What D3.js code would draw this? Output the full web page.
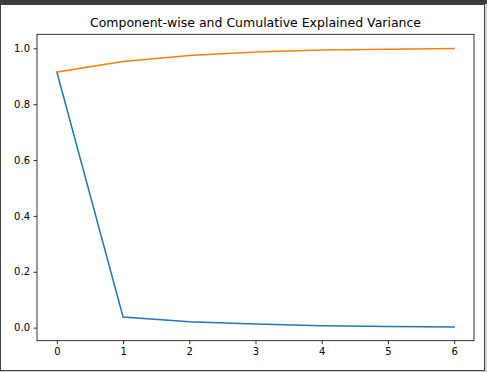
<!DOCTYPE html>
<html>
<head>
<meta charset="utf-8">
<script src="https://cdn.jsdelivr.net/npm/d3@7"></script>
<style>
  html, body { margin: 0; padding: 0; background: #d4d4d4; }
  #frame { position: absolute; left: 0; top: 0; width: 487px; height: 372px; overflow: hidden; }
</style>
</head>
<body>
<div id="frame"></div>
<script>
const components = [0, 1, 2, 3, 4, 5, 6]
const explained = [0.915, 0.038, 0.021, 0.013, 0.007, 0.004, 0.002]
const cumulative = [0.915, 0.953, 0.974, 0.987, 0.994, 0.997, 0.999]
const yTicks = [0.0, 0.2, 0.4, 0.6, 0.8, 1.0]
const title = 'Component-wise and Cumulative Explained Variance'

const width = 487, height = 372
const ax = { left: 37, right: 474, top: 34.3, bottom: 340.7 }

const svg = d3.select('#frame').append('svg')
  .attr('width', width)
  .attr('height', height)
  .attr('font-family', 'DejaVu Sans, sans-serif')

// window chrome around the figure
svg.append('rect').attr('x', 0).attr('y', 0).attr('width', width).attr('height', 4).attr('fill', '#3c3c3c')
svg.append('rect')
  .attr('x', 0.5).attr('y', 4.5).attr('width', 484).attr('height', 366)
  .attr('fill', '#fff').attr('stroke', '#444').attr('stroke-width', 1)

const x = d3.scaleLinear().domain([-0.3, 6.3]).range([ax.left, ax.right])
const y = d3.scaleLinear().domain([-0.0468, 1.0502]).range([ax.bottom, ax.top])

const line = d3.line().x((d, i) => x(components[i])).y(d => y(d))

svg.append('path').datum(explained)
  .attr('d', line).attr('fill', 'none')
  .attr('stroke', '#1f77b4').attr('stroke-width', 1.5).attr('stroke-linecap', 'square')

svg.append('path').datum(cumulative)
  .attr('d', line).attr('fill', 'none')
  .attr('stroke', '#ff7f0e').attr('stroke-width', 1.5).attr('stroke-linecap', 'square')

const xAxis = svg.append('g')
  .attr('transform', `translate(0,${ax.bottom})`)
  .call(d3.axisBottom(x).tickValues(components).tickFormat(d3.format('d')).tickSize(3.5).tickPadding(3.5))
const yAxis = svg.append('g')
  .attr('transform', `translate(${ax.left},0)`)
  .call(d3.axisLeft(y).tickValues(yTicks).tickFormat(d3.format('.1f')).tickSize(3.5).tickPadding(3.5))

for (const g of [xAxis, yAxis]) {
  g.select('.domain').remove()
  g.selectAll('line').attr('stroke', '#000').attr('stroke-width', 0.8)
  g.selectAll('text').attr('font-size', 10).attr('fill', '#000').attr('font-family', 'DejaVu Sans, sans-serif')
}

svg.append('rect')
  .attr('x', ax.left).attr('y', ax.top)
  .attr('width', ax.right - ax.left).attr('height', ax.bottom - ax.top)
  .attr('fill', 'none').attr('stroke', '#000').attr('stroke-width', 0.8)

svg.append('text')
  .attr('x', (ax.left + ax.right) / 2).attr('y', ax.top - 7)
  .attr('text-anchor', 'middle')
  .attr('font-size', 12.5)
  .attr('fill', '#000')
  .text(title)
</script>
</body>
</html>
